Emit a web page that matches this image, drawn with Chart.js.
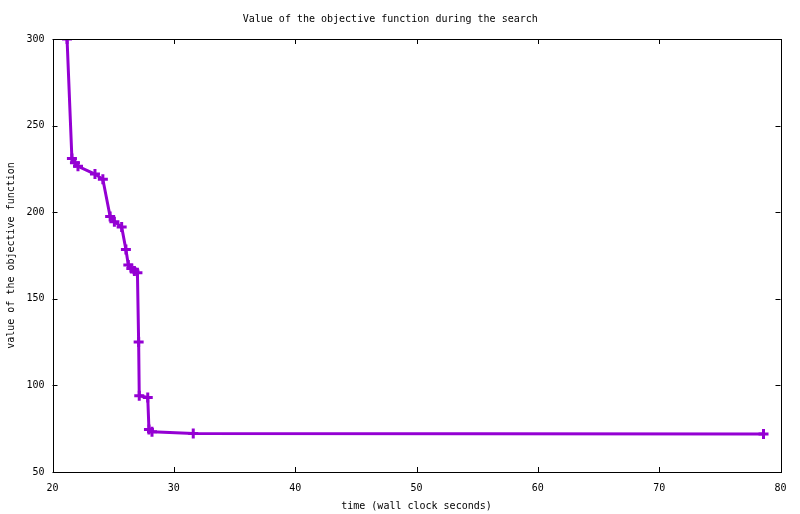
<!DOCTYPE html>
<html>
<head>
<meta charset="utf-8">
<script src="https://cdn.jsdelivr.net/npm/chart.js@4"></script>
<style>
  html, body { margin: 0; padding: 0; background: #fff; }
  #wrap { width: 800px; height: 514px; }
</style>
</head>
<body>
<div id="wrap"><canvas id="grafico"></canvas></div>
<script>
// time (s) and objective value
const tempos = [21.2, 21.6, 21.85, 22.1, 23.5, 24.15, 24.75, 25.1, 25.7, 26.05, 26.25, 26.5, 26.75, 27.0, 27.1, 27.15, 27.85, 27.95, 28.2, 31.6, 78.6];
const valores = [300, 231, 228.5, 226.5, 222, 219, 197.5, 194.5, 191.5, 178.5, 169.5, 167.5, 166, 165, 125, 94, 93, 74.5, 73.3, 72.3, 72];
const ticksX = [20, 30, 40, 50, 60, 70, 80];
const ticksY = [50, 100, 150, 200, 250, 300];

const fonte = { family: "'DejaVu Sans Mono', monospace", size: 10, weight: "normal" };
const cor = "#9400d3";

// gnuplot style frame with inward ticks on all sides
const moldura = {
    id: "moldura",
    afterDraw(chart) {
        const ctx = chart.ctx;
        const a = chart.chartArea;
        const sx = chart.scales.x, sy = chart.scales.y;
        const t = 5;
        ctx.save();
        ctx.strokeStyle = "#000";
        ctx.lineWidth = 1;
        ctx.strokeRect(Math.round(a.left) + 0.5, Math.round(a.top) + 0.5, Math.round(a.right - a.left), Math.round(a.bottom - a.top));
        ctx.beginPath();
        ticksX.forEach(v => {
            const px = Math.round(sx.getPixelForValue(v)) + 0.5;
            ctx.moveTo(px, a.bottom); ctx.lineTo(px, a.bottom - t);
            ctx.moveTo(px, a.top); ctx.lineTo(px, a.top + t);
        });
        ticksY.forEach(v => {
            const py = Math.round(sy.getPixelForValue(v)) + 0.5;
            ctx.moveTo(a.left, py); ctx.lineTo(a.left + t, py);
            ctx.moveTo(a.right, py); ctx.lineTo(a.right - t, py);
        });
        ctx.stroke();
        ctx.restore();
    }
};

const ctx = document.getElementById("grafico").getContext("2d");
new Chart(ctx, {
    type: "scatter",
    data: {
        datasets: [{
            data: tempos.map((t, i) => ({ x: t, y: valores[i] })),
            showLine: true,
            borderColor: cor,
            backgroundColor: cor,
            borderWidth: 3,
            pointRadius: 0,
            pointHoverRadius: 0
        }, {
            data: tempos.map((t, i) => ({ x: t, y: valores[i] })),
            showLine: false,
            borderColor: cor,
            backgroundColor: cor,
            pointStyle: "cross",
            pointRadius: 5,
            pointBorderWidth: 3,
            pointHoverRadius: 5
        }]
    },
    options: {
        responsive: true,
        maintainAspectRatio: false,
        animation: false,
        layout: { padding: { left: 0, right: 19.5, top: 0, bottom: 0 } },
        plugins: {
            legend: { display: false },
            tooltip: { enabled: false },
            title: {
                display: true,
                text: "Value of the objective function during the search",
                color: "#000",
                font: fonte,
                padding: { top: 13, bottom: 14 }
            }
        },
        scales: {
            x: {
                type: "linear",
                min: 20,
                max: 80,
                afterBuildTicks: s => { s.ticks = ticksX.map(v => ({ value: v })); },
                afterFit: s => { s.height = 42; },
                grid: { display: false, drawTicks: false },
                border: { display: false },
                ticks: { color: "#000", font: fonte, padding: 10 },
                title: {
                    display: true,
                    text: "time (wall clock seconds)",
                    color: "#000",
                    font: fonte,
                    padding: { top: 0, bottom: 2 }
                }
            },
            y: {
                type: "linear",
                min: 50,
                max: 300,
                afterBuildTicks: s => { s.ticks = ticksY.map(v => ({ value: v })); },
                afterFit: s => { s.width = 52.5; },
                grid: { display: false, drawTicks: false },
                border: { display: false },
                ticks: { color: "#000", font: fonte, padding: 8 },
                title: {
                    display: true,
                    text: "value of the objective function",
                    color: "#000",
                    font: fonte,
                    padding: { top: 5, bottom: 0 }
                }
            }
        }
    },
    plugins: [moldura]
});
</script>
</body>
</html>
